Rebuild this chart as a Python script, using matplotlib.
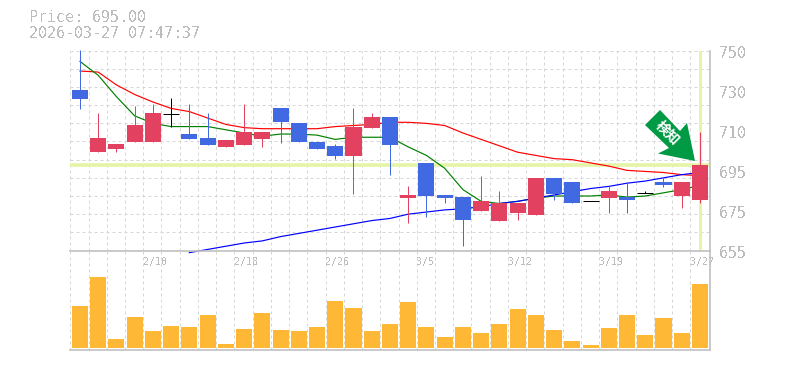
import numpy as np
import matplotlib
matplotlib.use("Agg")
import matplotlib.pyplot as plt
from matplotlib.patches import Polygon

W, H = 785, 370

title_lines = ["Price: 695.00", "2026-03-27 07:47:37"]

# ohlc (index 0 = oldest day)
opens = [730, 701, 702.5, 706, 706, 719, 709.5, 707.5, 703.5, 704.5, 707, 721.5, 714.5, 706, 704, 699,
         712.5, 717.5, 679.5, 696, 681, 680, 673.5, 669, 672.5, 671.5, 689, 687, 678, 679.5, 680, 682, 687, 680.5, 678.5]
highs = [749, 719.5, 705, 722.5, 723.5, 726.5, 723.5, 719.5, 706.5, 723.5, 710.5, 721.5, 714.5, 706, 705, 721.5,
         719.5, 717.5, 685, 696, 681, 680, 690, 683, 677, 689, 689, 687, 678, 685, 687, 683, 689, 687, 710.5]
lows = [721, 701, 701, 706, 706, 713, 707, 704.5, 703.5, 704.5, 703.5, 705.5, 706, 702.5, 698, 681.5,
        712.5, 690.5, 668, 670.5, 677, 657, 673.5, 669, 669.5, 671.5, 678.5, 677, 678, 672.5, 672.5, 682, 684.5, 675, 677]
closes = [726, 707.5, 705, 713.5, 719.5, 719, 707, 704.5, 706.5, 710.5, 710.5, 715, 706, 702.5, 699, 713,
          717.5, 704.5, 681, 680.5, 679.5, 669.5, 678, 677, 677, 689, 681.5, 677, 678, 683, 678.5, 682, 685.5, 687, 695]
volume = [42, 71, 9, 31, 17, 22, 21, 33, 4, 19, 35, 18, 17, 21, 47, 40, 17, 24,
          46, 21, 11, 21, 15, 24, 39, 33, 18, 7, 3, 20, 33, 13, 30, 15, 64]

ma_green = [743.5, 737, 727, 718, 714.5, 713, 713, 713, 711.5, 710, 708.5, 709.5, 709.5, 709, 707, 708,
            708, 708, 703.5, 699.5, 693.5, 683.5, 678, 677, 678, 679.5, 680.5, 680.5, 680.5, 681, 680, 680.5, 682, 683.5, 685.5]
ma_red = [739, 738.5, 732.5, 728, 724.5, 721.5, 720, 717, 714, 712.5, 712, 712, 712, 712, 713, 713.5,
          714, 715, 715, 714.5, 713.5, 710, 707, 704, 701, 699.5, 698, 697.5, 696, 694.5, 692.5, 692, 691.5, 690.5, 690]
ma_blue_idx = list(range(6, 35))
ma_blue = [654, 655.5, 657, 658.5, 659.5, 661.5, 663, 664.5, 666, 667.5, 669, 670, 672, 673, 674, 674.5, 675.5, 677,
           678, 679.5, 681, 682.5, 684, 685, 686.5, 687.5, 689, 690.5, 691.5]

y_labels = ["655", "675", "695", "710", "730", "750"]
date_idx = [4, 9, 14, 19, 24, 29, 34]
date_labels = ["2/10", "2/18", "2/26", "3/5", "3/12", "3/19", "3/27"]
last_price = 695

UP = "#e2425f"
DOWN = "#4169e1"
GRID = "#d6d6d6"
AXIS = "#c0c0c0"
TXT = "#bdbdbd"
LIME = "#e4f5a8"
VOL = "#ffb835"
MONO = "DejaVu Sans Mono"
PX = 0.72  # one pixel at dpi 100
EDGE = 0.53  # gridlines sit a bit left of the halfway point between candles

fig = plt.figure(figsize=(W / 100, H / 100), dpi=100)


def place(left, top, right, bottom):
    return fig.add_axes([left / W, 1 - bottom / H, (right - left) / W, (bottom - top) / H])


ax = place(70.3, 50.5, 709.8, 250.5)
vax = place(70.3, 250.5, 709.8, 350)
vax.patch.set_visible(False)  # blue line dips just under the price panel

x = np.arange(len(closes))
for a in (ax, vax):
    a.set_xlim(-EDGE, 34.54)
    a.set_xticks(x - EDGE)
    a.tick_params(length=0, labelbottom=False, labelleft=False)
    a.grid(axis="x", color=GRID, lw=PX, ls=(0, (3, 3)))
    a.set_axisbelow(True)
    for s in ("top", "left"):
        a.spines[s].set_visible(False)
    for s in ("bottom", "right"):
        a.spines[s].set_color(AXIS)
        a.spines[s].set_linewidth(1.2)

# price panel
ax.set_ylim(655, 748.6)
ax.set_yticks(np.linspace(655, 748.6, 12))
ax.grid(axis="y", color=GRID, lw=PX, ls=(0, (3, 3)))
ax.axhline(last_price, color=LIME, lw=2.6, zorder=1)
ax.axvline(x[-1], color=LIME, lw=2.2, zorder=1)

ax.plot(x, ma_red, color="#ff0000", lw=0.85, zorder=2)
ax.plot(x, ma_green, color="#008000", lw=0.85, zorder=2)
ax.plot(ma_blue_idx, ma_blue, color="#0000ff", lw=0.85, zorder=2, clip_on=False)

for i in x:
    o, h, l, c = opens[i], highs[i], lows[i], closes[i]
    col = UP if c > o else DOWN
    if abs(c - o) < 0.1:
        col = "black"
    ax.plot([i, i], [l, h], color=col, lw=PX, zorder=3, solid_capstyle="butt", clip_on=False)
    if col == "black":
        ax.plot([i - 0.44, i + 0.44], [c, c], color=col, lw=PX, zorder=4, solid_capstyle="butt")
    else:
        ax.bar(i, abs(c - o), bottom=min(o, c), width=0.88, color=col, zorder=4)

# volume panel
vax.set_ylim(-2, 97.5)
vax.set_yticks([])
vax.bar(x, volume, width=0.88, color=VOL, zorder=3)

# signal arrow sits in pixel space above the last candle
arrow_px = [(660, 110), (645, 125), (669, 148), (658, 153.5), (695, 161), (687, 123), (680, 131)]
fig.add_artist(Polygon([(px / W, 1 - py / H) for px, py in arrow_px], closed=True,
                       transform=fig.transFigure, facecolor="#009944", edgecolor="none", zorder=6))
fig.text(667 / W, 1 - 133 / H, "検知", color="white", fontsize=10, fontweight="bold", rotation=-45,
         rotation_mode="anchor", ha="center", va="center", family=["Noto Sans CJK JP", "DejaVu Sans"], zorder=7)

# text
for k, line in enumerate(title_lines):
    t = fig.text(29 / W, 1 - (18 + 15 * k) / H, line, color=TXT, fontsize=10.8, family=MONO, va="center", ha="left")
    t.set_antialiased(False)

for k, lab in enumerate(y_labels):
    t = fig.text(719 / W, 1 - (253 - 40 * k) / H, lab, color=TXT, fontsize=10.8, family=MONO, va="center", ha="left")
    t.set_antialiased(False)

for i, lab in zip(date_idx, date_labels):
    px = ax.transData.transform((i - EDGE, 655))[0]
    t = fig.text(px / W, 1 - 262 / H, lab, color=TXT, fontsize=7.2, family=MONO, va="center", ha="left")
    t.set_antialiased(False)

fig.savefig("out.png", dpi=100)
